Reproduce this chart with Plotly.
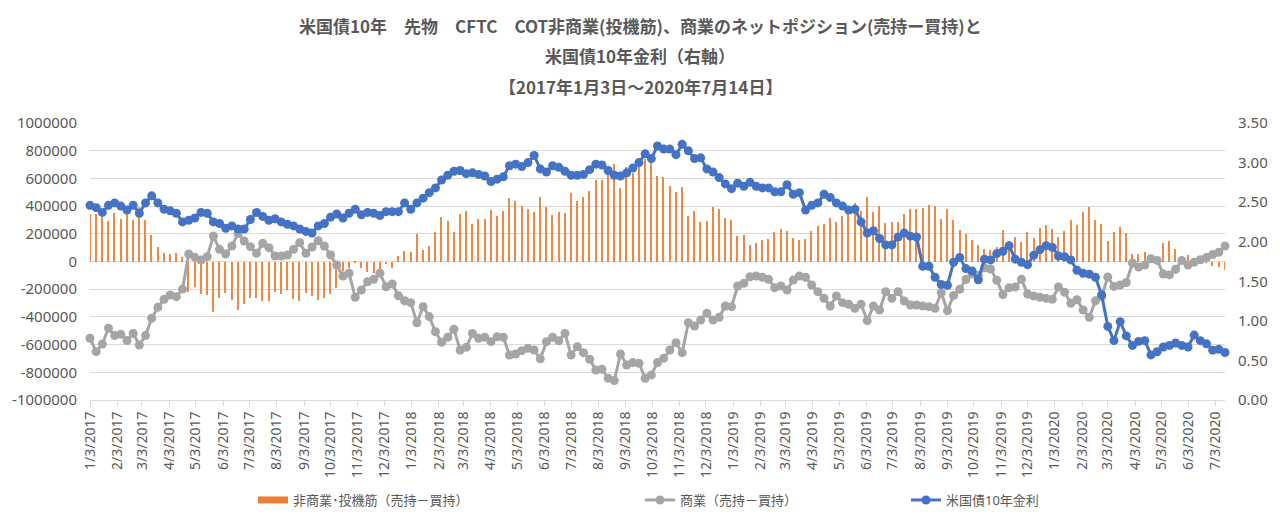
import pandas as pd
import plotly.graph_objects as go

# Weekly observation dates (Tuesdays), 2017-01-03 .. 2020-07-14
dates = pd.date_range("2017-01-03", periods=185, freq="7D")

# Non-commercial (speculators) net position, thousands of contracts
noncomm_k = [
    342, 342, 318, 292, 353, 304, 341, 300, 390, 300, 191, 102, 64, 52, 64, 35,
    -218, -182, -232, -242, -362, -264, -230, -280, -350, -306, -264, -260, -288, -288,
    -218, -232, -208, -270, -288, -225, -252, -275, -262, -237, -194, -70, -49, -8,
    -49, -73, -85, -57, -18, -49, 40, 78, 71, 196, 83, 114, 211, 324, 292, 211,
    341, 362, 268, 304, 304, 372, 329, 367, 456, 439, 401, 377, 360, 468, 396, 336,
    360, 353, 497, 439, 468, 509, 588, 588, 641, 702, 528, 685, 641, 680, 738, 716,
    617, 613, 545, 504, 535, 329, 367, 283, 292, 391, 377, 312, 300, 184, 191, 119,
    131, 155, 162, 210, 232, 223, 172, 155, 162, 220, 259, 271, 317, 283, 329, 353,
    420, 367, 463, 360, 401, 276, 283, 283, 343, 377, 382, 384, 408, 402, 305, 377,
    300, 227, 200, 155, 119, 92, 83, 107, 227, 150, 179, 140, 215, 172, 240, 264,
    232, 174, 222, 298, 264, 355, 391, 302, 270, 150, 211, 247, 203, 52, 54, 66,
    40, 35, 136, 146, 88, 27, 47, 10, 6, -6, -32, -37, -61,
]

# Commercial net position, thousands of contracts
comm_k = [
    -554, -651, -596, -482, -535, -526, -571, -519, -603, -535, -410, -331, -273, -242,
    -254, -199, 54, 30, 11, 35, 184, 88, 54, 112, 203, 148, 107, 59, 131, 100, 40, 40,
    47, 88, 136, 59, 105, 150, 112, 47, -25, -105, -85, -258, -206, -146, -129, -85,
    -182, -162, -247, -283, -297, -442, -326, -398, -507, -583, -547, -490, -639, -620,
    -519, -555, -547, -579, -543, -547, -675, -668, -644, -627, -639, -703, -579, -547,
    -572, -519, -675, -615, -658, -706, -783, -778, -843, -860, -668, -747, -730, -735,
    -843, -819, -730, -699, -639, -586, -658, -442, -466, -422, -374, -422, -403, -321,
    -326, -177, -157, -110, -105, -114, -128, -190, -177, -206, -134, -105, -114, -170,
    -218, -266, -321, -249, -297, -309, -338, -309, -427, -321, -350, -218, -266, -218,
    -285, -314, -314, -321, -326, -338, -225, -355, -245, -200, -130, -90, -100, -45,
    -55, -135, -238, -190, -184, -129, -235, -249, -258, -266, -273, -184, -222, -302,
    -276, -350, -403, -284, -254, -112, -180, -170, -152, -11, -40, -25, 20, 8, -90,
    -97, -56, 8, -25, -5, 13, 29, 50, 67, 112,
]

# US 10-year Treasury yield (%)
yield10 = [
    2.46, 2.43, 2.37, 2.46, 2.49, 2.45, 2.40, 2.46, 2.36, 2.49, 2.58, 2.49, 2.41, 2.39,
    2.36, 2.25, 2.27, 2.30, 2.37, 2.36, 2.25, 2.23, 2.17, 2.20, 2.16, 2.16, 2.28, 2.37,
    2.32, 2.27, 2.29, 2.25, 2.22, 2.20, 2.16, 2.13, 2.11, 2.20, 2.23, 2.31, 2.35, 2.30,
    2.36, 2.41, 2.34, 2.37, 2.36, 2.33, 2.38, 2.38, 2.38, 2.49, 2.41, 2.49, 2.55, 2.62,
    2.68, 2.78, 2.84, 2.89, 2.90, 2.86, 2.87, 2.85, 2.83, 2.76, 2.79, 2.82, 2.96, 2.98,
    2.95, 3.00, 3.09, 2.92, 2.88, 2.96, 2.94, 2.89, 2.84, 2.84, 2.85, 2.91, 2.98, 2.97,
    2.90, 2.84, 2.83, 2.87, 2.93, 3.00, 3.11, 3.05, 3.21, 3.17, 3.17, 3.10, 3.23, 3.15,
    3.05, 3.06, 2.92, 2.88, 2.81, 2.73, 2.67, 2.74, 2.70, 2.75, 2.70, 2.68, 2.68, 2.63,
    2.63, 2.72, 2.60, 2.62, 2.40, 2.46, 2.49, 2.60, 2.56, 2.49, 2.45, 2.40, 2.41, 2.25,
    2.11, 2.14, 2.04, 1.96, 1.96, 2.06, 2.11, 2.07, 2.06, 1.69, 1.69, 1.55, 1.46, 1.45,
    1.74, 1.80, 1.66, 1.63, 1.52, 1.78, 1.77, 1.85, 1.88, 1.95, 1.78, 1.74, 1.71, 1.83,
    1.90, 1.95, 1.93, 1.82, 1.81, 1.77, 1.64, 1.60, 1.59, 1.55, 1.33, 0.93, 0.75, 0.99,
    0.81, 0.69, 0.74, 0.75, 0.57, 0.61, 0.67, 0.69, 0.72, 0.69, 0.67, 0.82, 0.75, 0.71,
    0.63, 0.64, 0.60,
]

series_names = ["非商業･投機筋（売持－買持）", "商業（売持－買持）", "米国債10年金利"]
title_lines = [
    "米国債10年　先物　CFTC　COT非商業(投機筋)、商業のネットポジション(売持ー買持)と",
    "米国債10年金利（右軸）",
    "【2017年1月3日～2020年7月14日】",
]

# left-axis tick labels (plain hyphen-minus as in the reference)
left_ticks = [-1000000, -800000, -600000, -400000, -200000, 0,
              200000, 400000, 600000, 800000, 1000000]
left_tick_text = [str(v) for v in left_ticks]

tick_dates = pd.date_range("2017-01-03", "2020-07-03", freq=pd.DateOffset(months=1))
tick_text = [f"{d.month}/{d.day}/{d.year}" for d in tick_dates]

FONT = "Noto Sans, Noto Sans CJK JP, sans-serif"
TXT = "#595959"
GRID = "#d9d9d9"
ORANGE, GRAY, BLUE = "#ED7D31", "#A5A5A5", "#4472C4"

# The page body has an 8px default margin, so the figure is 8px smaller
W, H = 1272, 522
ML, MR, MT, MB = 82, 55, 115, 130
PW, PH = W - ML - MR, H - MT - MB

fig = go.Figure()
fig.add_trace(go.Bar(
    x=dates, y=[v * 1000 for v in noncomm_k], name=series_names[0],
    marker=dict(color=ORANGE, line=dict(width=0)), opacity=0.9,
    width=1.7 * 86400000, showlegend=False,
))
# legend-only entry drawn as a wide orange swatch (like the reference)
fig.add_trace(go.Scatter(
    x=[None], y=[None], name=series_names[0], mode="lines",
    line=dict(color=ORANGE, width=7), legend="legend", showlegend=True,
))
fig.add_trace(go.Scatter(
    x=dates, y=[v * 1000 for v in comm_k], name=series_names[1], mode="lines+markers",
    line=dict(color=GRAY, width=3), marker=dict(size=9, color=GRAY),
    cliponaxis=False, legend="legend2", showlegend=True,
))
fig.add_trace(go.Scatter(
    x=dates, y=yield10, name=series_names[2], mode="lines+markers", yaxis="y2",
    line=dict(color=BLUE, width=3), marker=dict(size=9, color=BLUE),
    cliponaxis=False, legend="legend3", showlegend=True,
))

annotations = []
for txt, ypix in zip(title_lines, [17, 47, 79]):
    annotations.append(dict(
        text=f"<b>{txt}</b>", xref="paper", yref="paper",
        x=(632 - ML) / PW, y=(H - MB - ypix) / PH,
        xanchor="center", yanchor="middle", showarrow=False,
        font=dict(family="Noto Sans CJK JP", size=17, color=TXT),
    ))

legend_common = dict(
    orientation="h", xref="container", yref="container", yanchor="middle",
    xanchor="left", y=1 - 492 / H, bgcolor="rgba(0,0,0,0)",
    font=dict(family=FONT, size=13, color=TXT),
)

fig.update_layout(
    width=W, height=H,
    margin=dict(l=ML, r=MR, t=MT, b=MB, autoexpand=False),
    paper_bgcolor="white", plot_bgcolor="white",
    font=dict(family=FONT, color=TXT),
    bargap=0,
    showlegend=True,
    annotations=annotations,
    legend=dict(legend_common, x=245 / W),
    legend2=dict(legend_common, x=632 / W),
    legend3=dict(legend_common, x=898 / W),
    xaxis=dict(
        type="date", range=["2017-01-03", "2020-07-14"],
        tickvals=tick_dates, ticktext=tick_text, tickangle=-90,
        ticks="outside", ticklen=5, tickcolor=GRID, showgrid=False,
        showline=True, linecolor=GRID, tickfont=dict(size=14, color=TXT),
        automargin=False,
    ),
    yaxis=dict(
        range=[-1000000, 1000000], tickvals=left_ticks, ticktext=left_tick_text,
        gridcolor=GRID, zeroline=True, zerolinecolor=GRID, zerolinewidth=1,
        tickfont=dict(size=15, color=TXT), ticklabelstandoff=12, automargin=False,
    ),
    yaxis2=dict(
        overlaying="y", side="right", range=[0, 3.5], dtick=0.5,
        tickformat=".2f", showgrid=False, zeroline=False,
        tickfont=dict(size=15, color=TXT), ticklabelstandoff=12, automargin=False,
    ),
)

fig.write_html("out.html")
